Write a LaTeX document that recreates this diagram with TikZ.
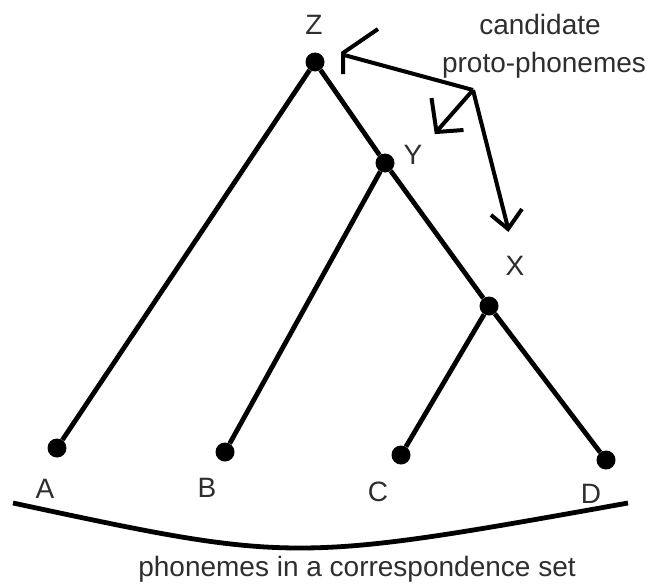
\documentclass[tikz,border=0pt]{standalone}
\usepackage{fontspec}
\setmainfont{Liberation Sans}
\begin{document}
\begin{tikzpicture}[x=1pt,y=-1pt,
  dotnode/.style={circle,fill=black,inner sep=0pt,minimum size=19pt},
  lbl/.style={font=\fontsize{28}{34}\selectfont,text=black!82,inner sep=0pt},
  branch/.style={line width=4.8pt,black},
  pointer/.style={line width=4pt,black,line join=miter}]
\useasboundingbox (0,0) rectangle (650,586);
% tree dots
\node[dotnode] (Z) at (315,62) {};
\node[dotnode] (Y) at (385,163) {};
\node[dotnode] (X) at (489,306) {};
\node[dotnode] (A) at (57,448) {};
\node[dotnode] (B) at (225,452) {};
\node[dotnode] (C) at (401,455) {};
\node[dotnode] (D) at (606,460) {};
% labels
\node[lbl] (lZ) at (314,25) {Z};
\node[lbl] (lY) at (413,155) {Y};
\node[lbl] (lX) at (515,266) {X};
\node[lbl] (lA) at (45,489) {A};
\node[lbl] (lB) at (207,488) {B};
\node[lbl] (lC) at (378,492) {C};
\node[lbl] (lD) at (591,494) {D};
\node[lbl,anchor=base] (cand1) at (540,35) {candidate};
\node[lbl,anchor=base] (cand2) at (544,72) {proto-phonemes};
\node[lbl,anchor=base] (corr) at (357,576) {phonemes in a correspondence set};
% branches
\draw[branch] (Z) -- (Y);
\draw[branch] (Y) -- (X);
\draw[branch] (X) -- (D);
\draw[branch] (Z) -- (A);
\draw[branch] (Y) -- (B);
\draw[branch] (X) -- (C);
% correspondence arc
\coordinate (arcL) at (13,503);
\coordinate (arcR) at (628,503);
\coordinate (arcC) at (293,563);
\draw[branch] (arcL) .. controls (arcC) .. (arcR);
% pointer arrows
\coordinate (O) at (473,90);
\coordinate (t1) at (344,55);
\coordinate (h1a) at (378,29);
\coordinate (h1b) at (343,53);
\coordinate (h1c) at (343,74);
\coordinate (t2) at (437,131);
\coordinate (h2a) at (431.5,98);
\coordinate (h2b) at (436.5,132);
\coordinate (h2c) at (463.5,130);
\coordinate (t3) at (508,228);
\coordinate (h3a) at (491,215);
\coordinate (h3b) at (508,229);
\coordinate (h3c) at (522,209);
\draw[pointer] (O) -- (t1);
\draw[pointer] (h1a) -- (h1b) -- (h1c);
\draw[pointer] (O) -- (t2);
\draw[pointer] (h2a) -- (h2b) -- (h2c);
\draw[pointer] (O) -- (t3);
\draw[pointer] (h3a) -- (h3b) -- (h3c);
\end{tikzpicture}
\end{document}
